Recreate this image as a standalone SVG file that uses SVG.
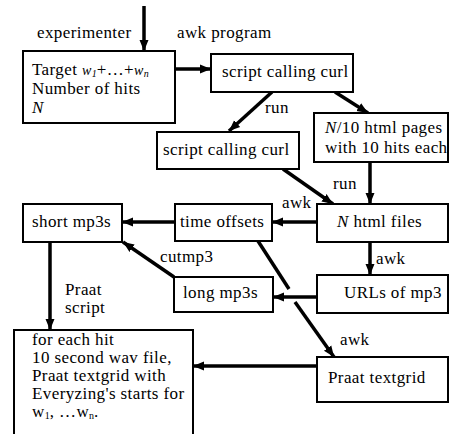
<svg xmlns="http://www.w3.org/2000/svg" width="449" height="434" viewBox="0 0 449 434">
  <style>
    .box { fill: #fff; stroke: #000; stroke-width: 2; }
    .t, .lbl { font-family: "Liberation Serif", "Times New Roman", serif; font-size: 17px; letter-spacing: 0.4px; fill: #000; }
    .it { font-style: italic; }
    .sub { font-size: 10px; letter-spacing: 0; }
    .edge { stroke: #000; stroke-width: 3.5; fill: none; }
    .arrow { marker-end: url(#head); }
  </style>
  <defs>
    <marker id="head" markerUnits="userSpaceOnUse" markerWidth="12" markerHeight="12" viewBox="0 0 12 12" refX="11" refY="6" orient="auto">
      <path d="M0,1.5 L11,6 L0,10.5 Z" fill="#000"/>
    </marker>
  </defs>

  <!-- connectors and their labels -->
  <g id="connectors">
    <line class="edge arrow" x1="144" y1="6" x2="144" y2="51"/>
    <line class="edge arrow" x1="175" y1="69" x2="211" y2="69"/>
    <line class="edge arrow" x1="272" y1="92" x2="229" y2="131"/>
    <line class="edge arrow" x1="335" y1="92" x2="368" y2="113"/>
    <line class="edge arrow" x1="370" y1="162" x2="370" y2="204"/>
    <line class="edge arrow" x1="283" y1="169" x2="333" y2="204"/>
    <line class="edge arrow" x1="317" y1="222" x2="272" y2="222"/>
    <line class="edge arrow" x1="175" y1="222" x2="122" y2="222"/>
    <line class="edge arrow" x1="370" y1="242" x2="370" y2="275"/>
    <line class="edge arrow" x1="317" y1="297" x2="273" y2="297"/>
    <line class="edge arrow" x1="174" y1="277" x2="123" y2="242"/>
    <!-- broken where it crosses the URLs → long mp3s arrow -->
    <line class="edge" x1="258" y1="241" x2="289" y2="289"/>
    <line class="edge arrow" x1="295" y1="302" x2="334" y2="357"/>
    <line class="edge arrow" x1="50" y1="242" x2="50" y2="330"/>
    <line class="edge arrow" x1="317" y1="366" x2="193" y2="366"/>

    <text class="lbl" x="37" y="38">experimenter</text>
    <text class="lbl" x="177" y="38">awk program</text>
    <text class="lbl" x="265" y="113">run</text>
    <text class="lbl" x="333" y="189">run</text>
    <text class="lbl" x="282" y="208">awk</text>
    <text class="lbl" x="376" y="264">awk</text>
    <text class="lbl" x="160" y="262">cutmp3</text>
    <text class="lbl" x="340" y="345">awk</text>
    <text class="lbl" x="65" y="295">Praat</text>
    <text class="lbl" x="65" y="313">script</text>
  </g>

  <g id="input">
    <rect class="box" x="23" y="51" width="152" height="72"/>
    <text class="t" x="32" y="75">Target <tspan class="it" font-size="14">w</tspan><tspan class="it sub" dy="2">1</tspan><tspan dy="-2">+…+</tspan><tspan class="it" font-size="14">w</tspan><tspan class="it sub" dy="2">n</tspan></text>
    <text class="t" x="32" y="94">Number of hits</text>
    <text class="t it" x="32" y="113">N</text>
  </g>

  <g id="curl-script">
    <rect class="box" x="211" y="54" width="142" height="38"/>
    <text class="t" x="222" y="77">script calling curl</text>
  </g>

  <g id="html-pages">
    <rect class="box" x="314" y="113" width="134" height="49"/>
    <text class="t" x="325" y="133"><tspan class="it">N</tspan>/10 html pages</text>
    <text class="t" x="325" y="153">with 10 hits each</text>
  </g>

  <g id="curl-script-2">
    <rect class="box" x="157" y="132" width="142" height="37"/>
    <text class="t" x="163" y="155">script calling curl</text>
  </g>

  <g id="short-mp3s">
    <rect class="box" x="23" y="204" width="99" height="38"/>
    <text class="t" x="32" y="227">short mp3s</text>
  </g>

  <g id="time-offsets">
    <rect class="box" x="175" y="204" width="97" height="37"/>
    <text class="t" x="180" y="227">time offsets</text>
  </g>

  <g id="html-files">
    <rect class="box" x="317" y="204" width="131" height="38"/>
    <text class="t" x="337" y="227"><tspan class="it">N</tspan> html files</text>
  </g>

  <g id="long-mp3s">
    <rect class="box" x="174" y="277" width="99" height="35"/>
    <text class="t" x="183" y="298">long mp3s</text>
  </g>

  <g id="mp3-urls">
    <rect class="box" x="317" y="275" width="131" height="38"/>
    <text class="t" x="344" y="298">URLs of mp3</text>
  </g>

  <g id="praat-textgrid">
    <rect class="box" x="317" y="357" width="131" height="45"/>
    <text class="t" x="328" y="383">Praat textgrid</text>
  </g>

  <g id="per-hit-output">
    <rect class="box" x="14" y="330" width="179" height="112"/>
    <text class="lbl" x="32" y="345">for each hit</text>
    <text class="lbl" x="32" y="363">10 second wav file,</text>
    <text class="lbl" x="32" y="381">Praat textgrid with</text>
    <text class="lbl" x="32" y="399">Everyzing's starts for</text>
    <text class="lbl" x="32" y="417">w<tspan class="sub" dy="2">1</tspan><tspan dy="-2">, …w</tspan><tspan class="sub" dy="2">n</tspan><tspan dy="-2">.</tspan></text>
  </g>
</svg>
